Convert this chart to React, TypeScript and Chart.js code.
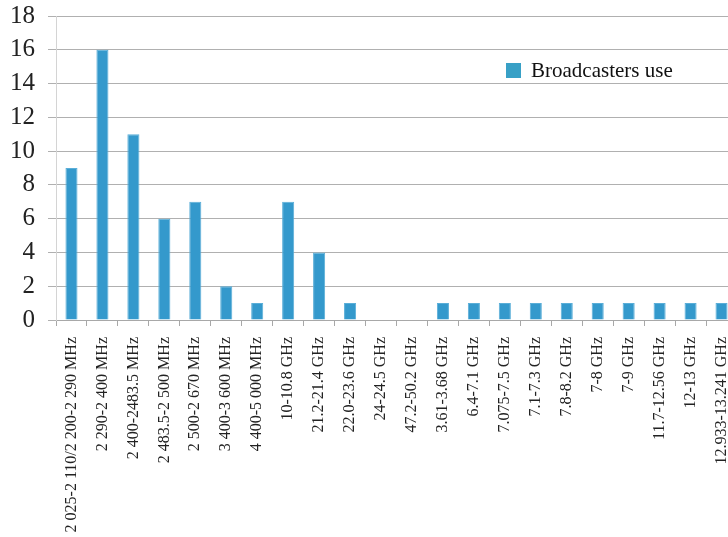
import React, { useEffect, useRef } from "react";
import { Chart, registerables } from "chart.js";

Chart.register(...registerables);

const categories: string[] = [
  "2 025-2 110/2 200-2 290 MHz",
  "2 290-2 400 MHz",
  "2 400-2483.5 MHz",
  "2 483.5-2 500 MHz",
  "2 500-2 670 MHz",
  "3 400-3 600 MHz",
  "4 400-5 000 MHz",
  "10-10.8 GHz",
  "21.2-21.4 GHz",
  "22.0-23.6 GHz",
  "24-24.5 GHz",
  "47.2-50.2 GHz",
  "3.61-3.68 GHz",
  "6.4-7.1 GHz",
  "7.075-7.5 GHz",
  "7.1-7.3 GHz",
  "7.8-8.2 GHz",
  "7-8 GHz",
  "7-9 GHz",
  "11.7-12.56 GHz",
  "12-13 GHz",
  "12.933-13.241 GHz",
];

const broadcastersUse: number[] = [9, 16, 11, 6, 7, 2, 1, 7, 4, 1, 0, 0, 1, 1, 1, 1, 1, 1, 1, 1, 1, 1];

const seriesLabel = "Broadcasters use";
const yTicks: number[] = [0, 2, 4, 6, 8, 10, 12, 14, 16, 18];

const BAR_COLOR = "#3499cc";
const FONT = "'Liberation Serif', 'Times New Roman', serif";

const insideLegend = {
  id: "insideLegend",
  afterDraw(chart: any) {
    const { ctx, chartArea } = chart;
    const ds = chart.data.datasets[0];
    const x = chartArea.right - 231;
    const y = chartArea.top + 47;
    ctx.save();
    ctx.fillStyle = "#38a0c6";
    ctx.fillRect(x, y, 15, 15);
    ctx.fillStyle = "#111";
    ctx.font = `21px ${FONT}`;
    ctx.textBaseline = "middle";
    ctx.textAlign = "left";
    ctx.fillText(ds.label, x + 25, y + 8);
    ctx.restore();
  },
};

export default function App() {
  const ref = useRef<HTMLCanvasElement | null>(null);

  useEffect(() => {
    if (!ref.current) return;
    const chart = new Chart(ref.current, {
      type: "bar",
      data: {
        labels: categories,
        datasets: [
          {
            label: seriesLabel,
            data: broadcastersUse,
            backgroundColor: BAR_COLOR,
            borderColor: "#5aaed8",
            borderWidth: 1,
            categoryPercentage: 1,
            barPercentage: 0.39,
          },
        ],
      },
      options: {
        responsive: false,
        animation: false,
        devicePixelRatio: 1,
        layout: { padding: { left: 0, top: 16, right: 0, bottom: 0 } },
        plugins: {
          legend: { display: false },
          tooltip: { enabled: false },
        },
        scales: {
          x: {
            offset: true,
            grid: {
              offset: true,
              drawOnChartArea: false,
              drawTicks: true,
              tickLength: 6,
              color: "#a8a8a8",
            },
            border: { display: true, color: "#a8a8a8" },
            ticks: {
              autoSkip: false,
              maxRotation: 90,
              minRotation: 90,
              padding: 11,
              color: "#222",
              font: { family: FONT, size: 16 },
            },
            afterFit(scale: any) {
              scale.height = 217;
              scale.paddingLeft = 0;
              scale.paddingRight = 0;
              scale.paddingTop = 0;
              scale.paddingBottom = 0;
            },
          },
          y: {
            min: 0,
            max: 18,
            afterBuildTicks(scale: any) {
              scale.ticks = yTicks.map((v) => ({ value: v }));
            },
            grid: {
              color: "#b0b0b0",
              tickLength: 8,
            },
            border: { display: true, color: "#d4d4d4" },
            ticks: {
              autoSkip: false,
              padding: 13,
              color: "#222",
              font: { family: FONT, size: 25 },
            },
            afterFit(scale: any) {
              scale.width = 56;
              scale.paddingTop = 0;
              scale.paddingBottom = 0;
              scale.paddingLeft = 0;
              scale.paddingRight = 0;
            },
          },
        },
      },
      plugins: [insideLegend],
    });
    return () => chart.destroy();
  }, []);

  return (
    <div
      style={{
        position: "absolute",
        left: 0,
        top: 0,
        width: 728,
        height: 537,
        overflow: "hidden",
        background: "#fff",
      }}
    >
      <canvas ref={ref} width={737} height={537} />
    </div>
  );
}
